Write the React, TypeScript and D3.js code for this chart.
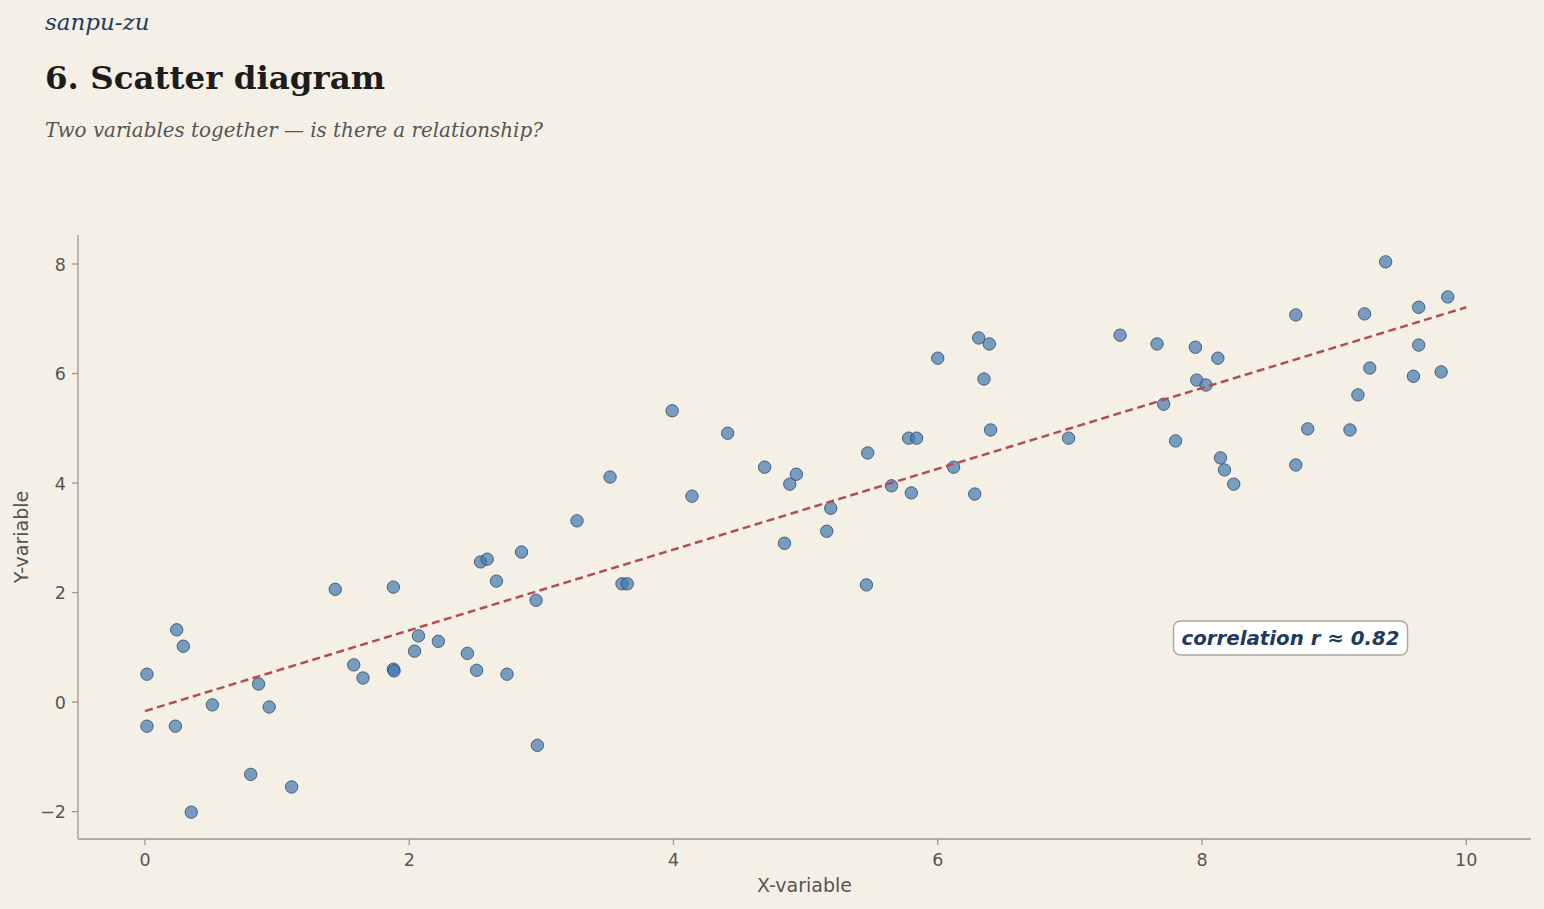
import React from "react";
import * as d3 from "d3";

// Observations (x, y)
const xValues = [
  0.015, 0.015, 0.24, 0.29, 0.23, 0.35, 0.51, 0.8, 0.86, 0.94,
  1.11, 1.44, 1.58, 1.65, 1.88, 1.88, 1.885, 2.04, 2.07, 2.22,
  2.44, 2.51, 2.54, 2.59, 2.66, 2.74, 2.85, 2.96, 2.97, 3.27,
  3.52, 3.61, 3.65, 3.99, 4.14, 4.41, 4.69, 4.84, 4.88, 4.93,
  5.16, 5.19, 5.46, 5.47, 5.65, 5.78, 5.8, 5.84, 6.0, 6.12,
  6.28, 6.31, 6.35, 6.39, 6.4, 6.99, 7.38, 7.66, 7.71, 7.8,
  7.95, 7.96, 8.03, 8.12, 8.14, 8.17, 8.24, 8.71, 8.71, 8.8,
  9.12, 9.18, 9.23, 9.27, 9.39, 9.6, 9.64, 9.64, 9.81, 9.86,
];
const yValues = [
  0.51, -0.44, 1.32, 1.02, -0.44, -2.01, -0.05, -1.32, 0.33, -0.09,
  -1.55, 2.06, 0.68, 0.44, 2.1, 0.6, 0.57, 0.93, 1.21, 1.11,
  0.89, 0.58, 2.56, 2.61, 2.21, 0.51, 2.74, 1.86, -0.79, 3.31,
  4.11, 2.16, 2.16, 5.32, 3.76, 4.91, 4.29, 2.9, 3.98, 4.16,
  3.12, 3.54, 2.14, 4.55, 3.95, 4.82, 3.82, 4.82, 6.28, 4.29,
  3.8, 6.65, 5.9, 6.54, 4.97, 4.82, 6.7, 6.54, 5.44, 4.77,
  6.48, 5.88, 5.79, 6.28, 4.46, 4.24, 3.98, 7.07, 4.33, 4.99,
  4.97, 5.61, 7.09, 6.1, 8.04, 5.95, 6.52, 7.21, 6.03, 7.4,
];
// Least-squares trend line endpoints
const trendX = [0, 10];
const trendY = [-0.164, 7.21];
const xTicks = [0, 2, 4, 6, 8, 10];
const yTicks = [-2, 0, 2, 4, 6, 8];
const correlationLabel = "correlation r \u2248 0.82";

const W = 1544;
const H = 909;
const plot = { left: 78, right: 1531, top: 235, bottom: 839 };

export default function App() {
  const x = d3.scaleLinear().domain([-0.507, 10.49]).range([plot.left, plot.right]);
  const y = d3.scaleLinear().domain([-2.5, 8.53]).range([plot.bottom, plot.top]);
  const points = xValues.map((v, i) => ({ x: v, y: yValues[i] }));
  const trend = d3
    .line<number>()
    .x((d) => x(d))
    .y((_, i) => y(trendY[i]));

  const axisColor = "#9a9691";
  const tickText = "#555";
  const sans = "'DejaVu Sans', sans-serif";
  const serif = "'DejaVu Serif', serif";

  const annX = x(8.67);
  const annY = y(1.17);
  const fmt = (t: number) => (t < 0 ? "\u2212" + Math.abs(t) : String(t));

  return (
    <svg
      width={W}
      height={H}
      style={{ position: "absolute", left: 0, top: 0, background: "#f5f0e5" }}
    >
      <rect x={0} y={0} width={W} height={H} fill="#f5f0e5" />
      <text x={45} y={30} fontFamily={serif} fontStyle="italic" fontSize={23} fill="#1f3a60">
        sanpu-zu
      </text>
      <text x={45} y={89} fontFamily={serif} fontWeight="bold" fontSize={32.5} fill="#1c1c1c">
        6. Scatter diagram
      </text>
      <text x={45} y={137} fontFamily={serif} fontStyle="italic" fontSize={19.9} fill="#555">
        Two variables together — is there a relationship?
      </text>

      {/* spines */}
      <line x1={plot.left} x2={plot.left} y1={plot.top} y2={plot.bottom} stroke={axisColor} strokeWidth={1.3} />
      <line x1={plot.left} x2={plot.right} y1={plot.bottom} y2={plot.bottom} stroke={axisColor} strokeWidth={1.3} />

      {xTicks.map((t) => (
        <g key={"x" + t}>
          <line x1={x(t)} x2={x(t)} y1={plot.bottom} y2={plot.bottom + 6} stroke={axisColor} strokeWidth={1.3} />
          <text x={x(t)} y={plot.bottom + 27} textAnchor="middle" fontFamily={sans} fontSize={17.5} fill={tickText}>
            {fmt(t)}
          </text>
        </g>
      ))}
      {yTicks.map((t) => (
        <g key={"y" + t}>
          <line x1={plot.left - 6} x2={plot.left} y1={y(t)} y2={y(t)} stroke={axisColor} strokeWidth={1.3} />
          <text x={plot.left - 12} y={y(t) + 6.5} textAnchor="end" fontFamily={sans} fontSize={17.5} fill={tickText}>
            {fmt(t)}
          </text>
        </g>
      ))}

      <text x={(plot.left + plot.right) / 2} y={892} textAnchor="middle" fontFamily={sans} fontSize={19} fill={tickText}>
        X-variable
      </text>
      <text
        transform={`translate(28, ${(plot.top + plot.bottom) / 2}) rotate(-90)`}
        textAnchor="middle"
        fontFamily={sans}
        fontSize={19}
        fill={tickText}
      >
        Y-variable
      </text>

      {points.map((p, i) => (
        <circle
          key={i}
          cx={x(p.x)}
          cy={y(p.y)}
          r={6.2}
          fill="#4277ad"
          fillOpacity={0.7}
          stroke="#2a4a70"
          strokeOpacity={0.8}
          strokeWidth={1}
        />
      ))}

      <path
        d={trend(trendX) || ""}
        fill="none"
        stroke="#b44c55"
        strokeWidth={2.5}
        strokeDasharray="8,4.5"
      />

      <g>
        <rect
          x={annX - 117}
          y={annY - 17}
          width={234}
          height={34}
          rx={7}
          fill="#ffffff"
          stroke="#aaa59f"
          strokeWidth={1.4}
        />
        <text
          x={annX}
          y={annY + 7}
          textAnchor="middle"
          fontFamily={sans}
          fontWeight="bold"
          fontStyle="italic"
          fontSize={19.8}
          fill="#1f3a60"
        >
          {correlationLabel}
        </text>
      </g>
    </svg>
  );
}
